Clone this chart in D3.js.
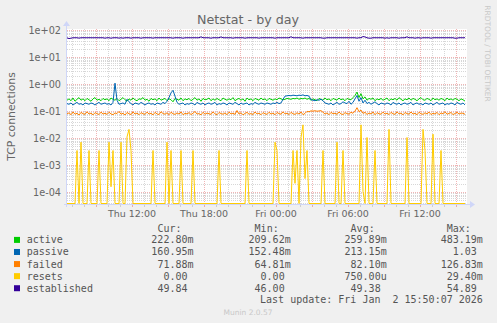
<!DOCTYPE html>
<html>
<head>
<meta charset="utf-8">
<script src="https://cdn.jsdelivr.net/npm/d3@7"></script>
<style>
  body { margin: 0; background: #f0f0f0; }
  svg { display: block; }
  text { font-family: "DejaVu Sans", sans-serif; fill: #666; }
  .mono { font-family: "DejaVu Sans Mono", monospace; font-size: 10px; fill: #555; white-space: pre; }
</style>
</head>
<body>
<svg id="chart"></svg>
<script>
// 5 min samples consolidated to 10 min, Thu 06:35 .. Fri 15:55
const startTime = new Date(2026, 0, 1, 6, 35);
const endTime = new Date(2026, 0, 2, 15, 55);
const stepMinutes = 10;

const seriesNames = ["active", "passive", "failed", "resets", "established"];
const seriesColors = ["#00cc00", "#0066b3", "#ff8000", "#ffcc00", "#330099"];

const active = [
  0.24,0.27,0.23,0.29,0.22,0.26,0.30,0.24,0.27,0.23, 0.28,0.25,0.22,0.27,0.30,0.24,0.26,0.23,0.28,0.25,
  0.27,0.23,0.29,0.26,0.24,0.28,0.23,0.26,0.30,0.25, 0.22,0.27,0.24,0.29,0.25,0.23,0.27,0.26,0.30,0.24,
  0.26,0.22,0.28,0.25,0.27,0.23,0.29,0.24,0.26,0.28, 0.23,0.27,0.25,0.21,0.28,0.26,0.24,0.29,0.23,0.27,
  0.25,0.28,0.23,0.26,0.30,0.24,0.27,0.22,0.28,0.25, 0.26,0.29,0.23,0.27,0.24,0.28,0.25,0.23,0.29,0.26,
  0.24,0.27,0.25,0.30,0.23,0.26,0.28,0.24,0.27,0.22, 0.29,0.25,0.27,0.23,0.28,0.26,0.24,0.29,0.25,0.27,
  0.23,0.28,0.26,0.24,0.27,0.25,0.29,0.27,0.25,0.26, 0.28,0.27,0.26,0.28,0.27,0.29,0.26,0.28,0.27,0.29,
  0.26,0.28,0.24,0.27,0.25,0.23,0.28,0.26,0.24,0.29, 0.25,0.27,0.23,0.28,0.26,0.24,0.29,0.25,0.27,0.23,
  0.28,0.26,0.25,0.30,0.36,0.48,0.30,0.42,0.27,0.32, 0.24,0.28,0.26,0.29,0.23,0.27,0.25,0.28,0.24,0.26,
  0.29,0.23,0.27,0.25,0.28,0.24,0.30,0.26,0.23,0.27, 0.25,0.29,0.24,0.28,0.26,0.23,0.27,0.30,0.25,0.24,
  0.28,0.26,0.23,0.29,0.25,0.27,0.24,0.28,0.26,0.23, 0.29,0.25,0.27,0.24,0.28,0.26,0.23,0.27,0.25,0.2228
];

const passive = [
  0.18,0.17,0.19,0.16,0.18,0.20,0.17,0.18,0.16,0.19, 0.18,0.17,0.19,0.18,0.16,0.18,0.20,0.17,0.18,0.19,
  0.17,0.18,0.16,0.20,1.03,0.24,0.17,0.18,0.19,0.17, 0.26,0.21,0.18,0.16,0.19,0.18,0.17,0.20,0.18,0.16,
  0.18,0.19,0.17,0.18,0.16,0.19,0.18,0.17,0.20,0.18, 0.22,0.30,0.45,0.56,0.34,0.20,0.17,0.18,0.19,0.16,
  0.18,0.17,0.19,0.18,0.16,0.20,0.18,0.17,0.19,0.16, 0.18,0.19,0.17,0.18,0.20,0.16,0.18,0.17,0.19,0.18,
  0.16,0.19,0.18,0.17,0.20,0.18,0.16,0.19,0.17,0.18, 0.19,0.16,0.18,0.17,0.20,0.18,0.17,0.19,0.18,0.17,
  0.19,0.18,0.17,0.19,0.18,0.20,0.18,0.19,0.26,0.34, 0.35,0.36,0.35,0.37,0.36,0.35,0.37,0.36,0.38,0.35,
  0.36,0.34,0.25,0.24,0.23,0.25,0.24,0.26,0.23,0.19, 0.18,0.17,0.19,0.16,0.18,0.20,0.17,0.18,0.21,0.19,
  0.18,0.22,0.17,0.20,0.27,0.36,0.22,0.30,0.19,0.24, 0.18,0.20,0.17,0.19,0.21,0.18,0.16,0.19,0.18,0.17,
  0.19,0.18,0.16,0.20,0.18,0.17,0.19,0.16,0.18,0.19, 0.17,0.18,0.20,0.16,0.18,0.19,0.17,0.18,0.16,0.19,
  0.18,0.17,0.19,0.16,0.18,0.20,0.17,0.18,0.19,0.16, 0.18,0.17,0.19,0.18,0.16,0.20,0.18,0.17,0.19,0.161
];

const failed = [
  0.075,0.082,0.070,0.088,0.073,0.079,0.068,0.085,0.076,0.072, 0.090,0.074,0.080,0.069,0.083,0.077,0.071,0.087,0.074,0.079,
  0.072,0.086,0.075,0.070,0.081,0.077,0.092,0.073,0.079,0.068, 0.084,0.076,0.071,0.089,0.074,0.080,0.070,0.083,0.076,0.072,
  0.087,0.074,0.079,0.069,0.085,0.075,0.071,0.090,0.077,0.073, 0.082,0.070,0.086,0.076,0.072,0.081,0.074,0.088,0.070,0.078,
  0.075,0.083,0.071,0.079,0.092,0.074,0.077,0.069,0.086,0.073, 0.080,0.076,0.072,0.089,0.075,0.070,0.084,0.077,0.073,0.081,
  0.070,0.087,0.075,0.079,0.072,0.100,0.074,0.082,0.069,0.078, 0.085,0.073,0.077,0.071,0.088,0.075,0.079,0.070,0.083,0.076,
  0.072,0.086,0.074,0.080,0.070,0.084,0.077,0.073,0.089,0.075, 0.079,0.071,0.085,0.076,0.072,0.082,0.074,0.088,0.070,0.078,
  0.093,0.090,0.097,0.095,0.098,0.094,0.096,0.099,0.086,0.074, 0.081,0.070,0.085,0.076,0.079,0.072,0.088,0.075,0.071,0.083,
  0.077,0.073,0.086,0.079,0.095,0.127,0.090,0.104,0.078,0.085, 0.072,0.080,0.075,0.088,0.070,0.083,0.076,0.073,0.087,0.074,
  0.079,0.071,0.085,0.076,0.072,0.089,0.075,0.080,0.069,0.084, 0.077,0.073,0.088,0.074,0.079,0.070,0.086,0.076,0.072,0.082,
  0.075,0.087,0.071,0.079,0.074,0.085,0.070,0.081,0.076,0.090, 0.073,0.078,0.084,0.071,0.077,0.086,0.074,0.080,0.079,0.0719
];

const resets = [
  0,0,0,0,0,0.0033,0,0.0067,0,0, 0,0.0033,0,0,0,0,0.0033,0,0,0,
  0,0.0067,0.00015,0.0033,0,0,0,0.0067,0,0, 0.0105,0.02,0.0033,0,0,0,0,0,0,0,
  0,0,0,0.0033,0,0,0,0,0,0, 0.0067,0,0.0033,0,0,0,0,0.0033,0,0,
  0,0,0,0.0033,0,0,0,0,0,0, 0,0,0,0,0,0,0.0033,0,0,0,
  0,0,0,0,0,0,0,0,0,0, 0.0033,0,0,0,0,0,0,0,0,0,
  0,0,0,0,0.0067,0.0033,0,0,0,0, 0,0,0,0.0033,0.0002,0.0033,0,0.01,0.0294,0.0003,
  0.0033,0,0,0,0,0,0,0,0.0033,0, 0,0,0,0,0,0.0067,0,0,0.0033,0,
  0,0,0,0,0,0,0,0.0294,0.0001,0, 0.01,0,0,0,0.0033,0,0,0,0,0,
  0,0.02,0,0,0,0,0,0,0,0, 0.01,0,0,0,0,0,0,0,0.02,0.0033,
  0,0,0,0.0133,0,0,0,0.0033,0,0, 0,0,0,0,0,0,0,0,0,0
];

const established = [
  49.3,46.0,47.8,49.4,49.5,49.5,48.0,49.4,49.6,49.5, 49.4,49.6,49.5,49.4,49.6,49.5,49.4,49.6,49.5,47.9,
  49.4,49.5,47.7,49.4,49.5,49.6,48.0,49.5,47.8,49.4, 49.6,49.5,47.9,49.5,49.4,49.6,49.5,47.8,49.4,49.5,
  49.6,49.4,49.5,48.0,49.6,49.5,49.4,49.6,49.5,49.4, 49.5,49.6,49.4,47.9,49.5,49.6,49.4,49.5,47.7,49.4,
  49.5,49.6,49.4,49.5,49.6,49.4,49.5,53.5,49.6,49.4, 49.5,49.4,47.8,49.6,49.5,49.4,49.5,53.2,49.6,49.4,
  49.5,49.4,49.6,47.9,49.5,49.6,49.4,49.5,49.6,47.8, 49.4,49.5,49.6,49.4,49.5,49.6,48.0,49.4,49.5,49.6,
  49.4,49.5,49.6,49.4,47.8,49.5,49.6,49.4,49.5,49.6, 49.4,49.5,53.8,49.6,49.4,49.5,49.6,49.4,47.9,49.5,
  49.6,49.4,49.5,49.6,49.4,49.5,49.6,49.4,47.9,48.0, 49.5,49.6,49.4,49.5,49.6,49.4,49.5,49.6,49.4,49.5,
  49.6,49.4,49.5,49.6,49.4,48.0,49.5,49.6,54.9,53.0, 49.4,47.8,47.9,49.5,49.6,49.4,49.5,49.6,49.4,47.8,
  49.5,47.7,49.6,49.4,49.5,49.6,47.9,49.4,49.5,49.6, 53.6,49.4,49.5,49.6,47.8,49.4,49.5,47.9,49.6,49.4,
  49.5,49.6,47.8,49.4,49.5,49.6,49.4,49.5,49.6,49.4, 49.5,49.6,49.4,49.5,47.6,47.8,49.5,49.6,49.4,49.84
];

const curValues = ["222.80m", "160.95m", "71.88m", "0.00 ", "49.84 "];
const minValues = ["209.62m", "152.48m", "64.81m", "0.00 ", "46.00 "];
const avgValues = ["259.89m", "213.15m", "82.10m", "750.00u", "49.38 "];
const maxValues = ["483.19m", "1.03 ", "126.83m", "29.40m", "54.89 "];
const statHeaders = ["Cur:", "Min:", "Avg:", "Max:"];
const yTickValues = [1e-4, 1e-3, 1e-2, 1e-1, 1e0, 1e1, 1e2];

const width = 497, height = 323;
const plot = { left: 67, top: 29, right: 467, bottom: 204 };
const decadePx = 27;

const svg = d3.select("#chart").attr("width", width).attr("height", height);
svg.append("rect").attr("width", width).attr("height", height).attr("fill", "#f0f0f0");
svg.append("rect")
  .attr("x", plot.left).attr("y", plot.top)
  .attr("width", plot.right - plot.left).attr("height", plot.bottom - plot.top)
  .attr("fill", "#fff");

const x = d3.scaleTime().domain([startTime, endTime]).range([plot.left, plot.right]);
const yMin = Math.pow(10, -4 - 12 / decadePx);
const yMax = Math.pow(10, 2 + 1 / decadePx);
const y = d3.scaleLog().domain([yMin, yMax]).range([plot.bottom, plot.top]);

const times = active.map((d, i) => new Date(startTime.getTime() + i * stepMinutes * 60000));

// grid
const minorY = [];
for (let e = -5; e <= 2; e++) {
  for (let m = 2; m <= 9; m++) {
    const v = m * Math.pow(10, e);
    if (v > yMin && v < yMax) minorY.push(v);
  }
}
const gridMinor = "rgba(150,150,150,0.38)";
const gridMajor = "rgba(222,79,79,0.42)";
const grid = svg.append("g");

grid.selectAll(".hmin").data(minorY).join("line")
  .attr("x1", plot.left).attr("x2", plot.right)
  .attr("y1", d => Math.round(y(d)) + 0.5).attr("y2", d => Math.round(y(d)) + 0.5)
  .attr("stroke", gridMinor).attr("stroke-dasharray", "1,1");

const hours = x.ticks(d3.timeHour.every(1));
const minorHours = hours.filter(d => d.getHours() % 3 !== 0);
const majorHours = hours.filter(d => d.getHours() % 3 === 0);

grid.selectAll(".vmin").data(minorHours).join("line")
  .attr("x1", d => Math.round(x(d)) + 0.5).attr("x2", d => Math.round(x(d)) + 0.5)
  .attr("y1", plot.top).attr("y2", plot.bottom)
  .attr("stroke", gridMinor).attr("stroke-dasharray", "1,1");

grid.selectAll(".hmaj").data(yTickValues).join("line")
  .attr("x1", plot.left).attr("x2", plot.right)
  .attr("y1", d => Math.round(y(d)) + 0.5).attr("y2", d => Math.round(y(d)) + 0.5)
  .attr("stroke", gridMajor).attr("stroke-dasharray", "1,1");

grid.selectAll(".vmaj").data(majorHours).join("line")
  .attr("x1", d => Math.round(x(d)) + 0.5).attr("x2", d => Math.round(x(d)) + 0.5)
  .attr("y1", plot.top).attr("y2", plot.bottom)
  .attr("stroke", gridMajor).attr("stroke-dasharray", "1,1");

// small ticks under the x axis
grid.selectAll(".tmin").data(minorHours).join("line")
  .attr("x1", d => Math.round(x(d)) + 0.5).attr("x2", d => Math.round(x(d)) + 0.5)
  .attr("y1", plot.bottom).attr("y2", plot.bottom + 3)
  .attr("stroke", gridMinor);
grid.selectAll(".tmaj").data(majorHours).join("line")
  .attr("x1", d => Math.round(x(d)) + 0.5).attr("x2", d => Math.round(x(d)) + 0.5)
  .attr("y1", plot.bottom).attr("y2", plot.bottom + 3)
  .attr("stroke", gridMajor);

// data lines
svg.append("clipPath").attr("id", "clip").append("rect")
  .attr("x", plot.left).attr("y", plot.top - 1)
  .attr("width", plot.right - plot.left).attr("height", plot.bottom - plot.top + 1);

const seriesData = [active, passive, failed, resets, established];
const line = d3.line()
  .x((d, i) => x(times[i]))
  .y(d => y(Math.max(d, yMin)) - 0.5);

svg.append("g").attr("clip-path", "url(#clip)")
  .selectAll("path").data(seriesData).join("path")
  .attr("d", line)
  .attr("fill", "none")
  .attr("stroke", (d, i) => seriesColors[i])
  .attr("stroke-width", 1);

// axes
const axisColor = "#cfd6f8";
svg.append("line")
  .attr("x1", plot.left - 3).attr("x2", plot.right + 4)
  .attr("y1", plot.bottom + 0.5).attr("y2", plot.bottom + 0.5)
  .attr("stroke", axisColor);
svg.append("path")
  .attr("d", `M${plot.right + 3},${plot.bottom - 3}L${plot.right + 8},${plot.bottom + 0.5}L${plot.right + 3},${plot.bottom + 4}Z`)
  .attr("fill", axisColor);
svg.append("line")
  .attr("x1", plot.left - 0.5).attr("x2", plot.left - 0.5)
  .attr("y1", plot.bottom + 3).attr("y2", plot.top - 4)
  .attr("stroke", axisColor);
svg.append("path")
  .attr("d", `M${plot.left - 4},${plot.top - 3}L${plot.left - 0.5},${plot.top - 8}L${plot.left + 3},${plot.top - 3}Z`)
  .attr("fill", axisColor);

// tick labels
const expFormat = v => v.toExponential(0).replace(/e([+-])(\d)$/, "e$10$2");
svg.append("g").selectAll("text").data(yTickValues).join("text")
  .attr("x", plot.left - 6).attr("y", d => y(d) + 3.8)
  .attr("text-anchor", "end").style("font-size", "9.7px")
  .text(expFormat);

const labelHours = x.ticks(d3.timeHour.every(6));
svg.append("g").selectAll("text").data(labelHours).join("text")
  .attr("x", d => x(d)).attr("y", 216.5)
  .attr("text-anchor", "middle").style("font-size", "9.5px")
  .text(d3.timeFormat("%a %H:%M"));

// titles
svg.append("text").attr("x", 248).attr("y", 23.8)
  .attr("text-anchor", "middle").style("font-size", "12.7px")
  .text("Netstat - by day");
svg.append("text")
  .attr("transform", "translate(15,116.5) rotate(-90)")
  .attr("text-anchor", "middle").style("font-size", "10.8px")
  .text("TCP connections");
svg.append("text")
  .attr("transform", "translate(485,53.5) rotate(90)")
  .attr("text-anchor", "middle").style("font-size", "7.5px").style("fill", "#c8c8c8")
  .text("RRDTOOL / TOBI OETIKER");

// legend
const rowY = i => 243.4 + i * 12.08;
const legend = svg.append("g");
legend.selectAll("rect").data(seriesNames).join("rect")
  .attr("x", 14).attr("y", (d, i) => rowY(i) - 6.5)
  .attr("width", 6).attr("height", 6)
  .attr("fill", (d, i) => seriesColors[i]);
legend.selectAll(".name").data(seriesNames).join("text")
  .attr("class", "mono name")
  .attr("x", 26.7).attr("y", (d, i) => rowY(i))
  .text(d => d);

const columnRight = [193.5, 290.7, 386.7, 482.8];
const columns = [curValues, minValues, avgValues, maxValues];
columns.forEach((vals, c) => {
  legend.append("text").attr("class", "mono")
    .attr("x", columnRight[c] - 12).attr("y", 231.6)
    .attr("text-anchor", "end")
    .text(statHeaders[c]);
  legend.selectAll(".col" + c).data(vals).join("text")
    .attr("class", "mono col" + c)
    .attr("x", columnRight[c]).attr("y", (d, i) => rowY(i))
    .attr("text-anchor", "end")
    .text(d => d.replace(/ $/, "\u00a0"));
});

legend.append("text").attr("class", "mono")
  .attr("x", 482.8).attr("y", 302.7)
  .attr("text-anchor", "end")
  .text("Last update: Fri Jan\u00a0 2 15:50:07 2026");

svg.append("text").attr("x", 248).attr("y", 315)
  .attr("text-anchor", "middle").style("font-size", "7.5px").style("fill", "#c8c8c8")
  .text("Munin 2.0.57");
</script>
</body>
</html>
